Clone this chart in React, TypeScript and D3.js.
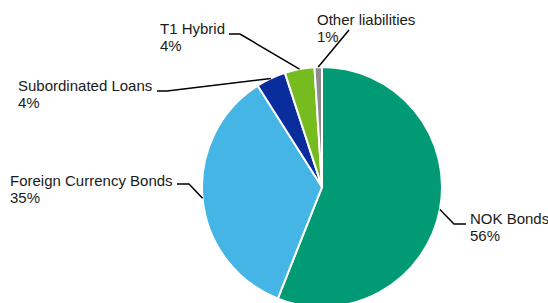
import * as d3 from 'd3';
import React from 'react';

// funding mix, share of total (%)
const categories = ['NOK Bonds', 'Foreign Currency Bonds', 'Subordinated Loans', 'T1 Hybrid', 'Other liabilities'];
const shares = [56, 35, 4, 4, 1];
const colors = ['#009a74', '#45b5e5', '#0a2d9e', '#77bc1f', '#8c8c8c'];

// where each callout sits: text block left/baseline, elbow of the leader, end of the stub
const labelLayout: Record<string, { x: number; y: number; elbow: [number, number]; stub: [number, number] }> = {
   'NOK Bonds': { x: 470, y: 224, elbow: [454, 224], stub: [466, 224] },
   'Foreign Currency Bonds': { x: 10, y: 186, elbow: [189, 184], stub: [177, 184] },
   'Subordinated Loans': { x: 18, y: 91, elbow: [167, 91], stub: [157, 91] },
   'T1 Hybrid': { x: 160, y: 34, elbow: [240, 34], stub: [229, 34] },
   'Other liabilities': { x: 317, y: 25, elbow: [349, 30], stub: [349, 30] },
};

const W = 548;
const H = 303;
const cx = 322;
const cy = 187;
const radius = 120;

export default function App() {
   const data = categories.map((name, i) => ({ name, value: shares[i], color: colors[i] }));

   const pie = d3
      .pie<{ name: string; value: number; color: string }>()
      .sort(null)
      .value((d) => d.value);
   const arcs = pie(data);

   const arc = d3
      .arc<d3.PieArcDatum<{ name: string; value: number; color: string }>>()
      .innerRadius(0)
      .outerRadius(radius);

   const total = d3.sum(shares);

   return (
      <svg
         width={W}
         height={H}
         style={{ position: 'absolute', left: 0, top: 0, background: '#fff' }}
         fontFamily="'Liberation Sans', Arial, sans-serif"
      >
         <g transform={`translate(${cx},${cy})`}>
            {arcs.map((a) => (
               <path key={a.data.name} d={arc(a) ?? ''} fill={a.data.color} stroke="#fff" strokeWidth={2} />
            ))}
         </g>

         {arcs.map((a) => {
            const lay = labelLayout[a.data.name];
            const mid = (a.startAngle + a.endAngle) / 2;
            // point on the rim, at the middle of the slice
            const px = cx + radius * Math.sin(mid);
            const py = cy - radius * Math.cos(mid);
            const pts: [number, number][] = [[px, py], lay.elbow, lay.stub];
            const pct = Math.round((a.data.value / total) * 100);
            return (
               <g key={a.data.name}>
                  <path d={d3.line()(pts) ?? ''} fill="none" stroke="#000" strokeWidth={1.5} />
                  <text x={lay.x} y={lay.y} fontSize={15} fill="#1a1a1a">
                     {a.data.name}
                     <tspan x={lay.x} dy={17}>{`${pct}%`}</tspan>
                  </text>
               </g>
            );
         })}
      </svg>
   );
}
